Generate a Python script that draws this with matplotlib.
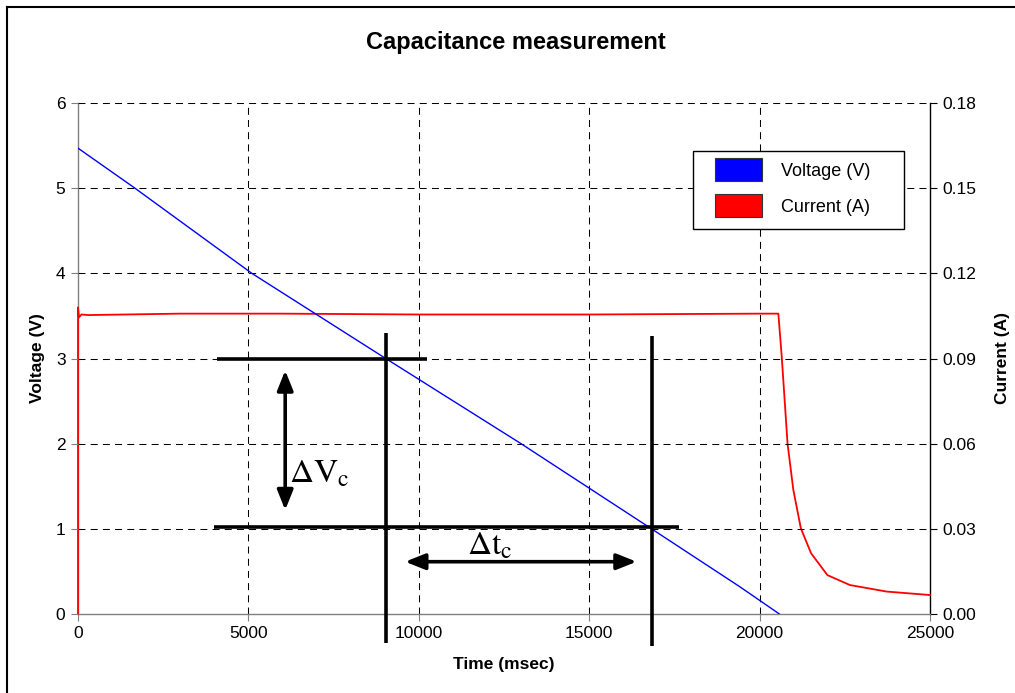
import matplotlib
matplotlib.use("Agg")
import matplotlib.pyplot as plt
from matplotlib.patches import Patch, Rectangle
from matplotlib.lines import Line2D

plt.rcParams['font.family'] = ['Liberation Sans', 'DejaVu Sans']
plt.rcParams['mathtext.fontset'] = 'stix'

# ---- data ----
volt_t = [0, 1670, 5100, 9030, 13000, 16830, 19420, 20580]
volt_v = [5.47, 5.0, 4.0, 3.0, 2.0, 1.0, 0.32, 0.0]

curr_t = [0, 0, 30, 100, 300, 3000, 6000, 10000, 15000, 20000, 20550, 20650,
          20820, 20990, 21210, 21510, 21990, 22650, 23730, 24980, 25000]
curr_a = [0.0, 0.108, 0.1045, 0.1055, 0.1053, 0.1058, 0.1058, 0.1055, 0.1055, 0.1058,
          0.1058, 0.0906, 0.060, 0.0437, 0.0302, 0.0214, 0.0137, 0.0102, 0.0079,
          0.0067, 0.0067]

x_ticks = [0, 5000, 10000, 15000, 20000, 25000]
v_ticks = [0, 1, 2, 3, 4, 5, 6]
i_ticks = [0.00, 0.03, 0.06, 0.09, 0.12, 0.15, 0.18]
i_tick_labels = ['0.00', '0.03', '0.06', '0.09', '0.12', '0.15', '0.18']

# annotation geometry (data units)
hline_upper = (3.0, 4070, 10230)      # V, t_start, t_end
hline_lower = (1.025, 3990, 17640)
vline_left = (9030, 3.3, -0.34)       # t, V_top, V_bottom
vline_right = (16830, 3.27, -0.38)
dv_arrow = (6080, 2.86, 1.22)
dt_arrow = (0.614, 9600, 16390)

W, H = 1015, 693
fig = plt.figure(figsize=(W / 100, H / 100), dpi=100)
ax2 = fig.add_axes([78/W, 1 - 614/H, (930-78)/W, (614-103)/H])
ax = ax2.twinx()  # voltage axes drawn on top
ax.yaxis.set_label_position('left')
ax.yaxis.tick_left()
ax2.yaxis.set_label_position('right')
ax2.yaxis.tick_right()

ax.set_xlim(0, 25000)
ax2.set_xlim(0, 25000)
ax.set_ylim(0, 6)
ax2.set_ylim(0, 0.18)

grid_ls = (0, (6.7, 5.0))
for xv in x_ticks[1:-1]:
    ax2.axvline(xv, color='black', lw=0.75, ls=grid_ls, zorder=1)
for yv in v_ticks[1:]:
    ax.axhline(yv, color='black', lw=0.75, ls=grid_ls, zorder=1)

ax2.plot(curr_t, curr_a, color='#ff0000', lw=1.3, zorder=3, clip_on=False)
ax.plot(volt_t, volt_v, color='#0000ff', lw=1.0, zorder=3)
ax.patch.set_visible(False)

# annotations
ak = dict(color='black', lw=2.6, solid_capstyle='butt', zorder=5, clip_on=False)
ax.plot([hline_upper[1], hline_upper[2]], [hline_upper[0]] * 2, **ak)
ax.plot([hline_lower[1], hline_lower[2]], [hline_lower[0]] * 2, **ak)
ax.plot([vline_left[0]] * 2, [vline_left[1], vline_left[2]], **ak)
ax.plot([vline_right[0]] * 2, [vline_right[1], vline_right[2]], **ak)
astyle = '<|-|>,head_length=0.6,head_width=0.24'
ax.annotate('', xy=(dv_arrow[0], dv_arrow[1]), xytext=(dv_arrow[0], dv_arrow[2]),
            arrowprops=dict(arrowstyle=astyle, color='black', lw=2.6,
                            shrinkA=0, shrinkB=0, mutation_scale=20), zorder=5)
ax.annotate('', xy=(dt_arrow[1], dt_arrow[0]), xytext=(dt_arrow[2], dt_arrow[0]),
            arrowprops=dict(arrowstyle=astyle, color='black', lw=2.6,
                            shrinkA=0, shrinkB=0, mutation_scale=20), zorder=5)
ax.text(6200, 1.64, r'$\Delta\mathrm{V}_{\mathrm{c}}$', fontsize=24, ha='left', va='center', zorder=6)
ax.text(12080, 0.80, r'$\Delta\mathrm{t}_{\mathrm{c}}$', fontsize=24, ha='center', va='center', zorder=6)

# axes styling
ax2.set_xticks(x_ticks)
ax2.set_xticklabels([str(v) for v in x_ticks])
ax.set_yticks(v_ticks)
ax2.set_yticks(i_ticks)
ax2.set_yticklabels(i_tick_labels)
for s in ['top', 'right', 'left', 'bottom']:
    ax.spines[s].set_visible(False)
ax2.spines['top'].set_visible(False)
for s in ['left', 'bottom']:
    ax2.spines[s].set_color('#808080')
    ax2.spines[s].set_linewidth(1.0)
ax2.spines['right'].set_color('black')
ax2.spines['right'].set_linewidth(1.0)
ax.tick_params(axis='y', direction='out', length=5, color='#808080', labelsize=12.5, pad=4)
ax.tick_params(axis='x', bottom=False, labelbottom=False)
ax2.tick_params(axis='x', direction='out', length=5, color='#808080', labelsize=12.5, pad=4)
ax2.tick_params(axis='y', direction='out', length=5, color='black', labelsize=12.5, pad=4)

ax2.set_xlabel('Time (msec)', fontsize=12.5, fontweight='bold', labelpad=11)
ax.set_ylabel('Voltage (V)', fontsize=12.5, fontweight='bold', labelpad=8)
ax2.set_ylabel('Current (A)', fontsize=12.5, fontweight='bold', labelpad=13)
fig.text((364 + 668) / 2 / W, 1 - 43 / H, 'Capacitance measurement', fontsize=17,
         fontweight='bold', ha='center', va='center')

# legend: box drawn separately, entries placed inside
box = Rectangle((693/W, 1 - 229/H), (904-693)/W, (229-151)/H, transform=fig.transFigure,
                facecolor='white', edgecolor='black', lw=1.0, zorder=7)
fig.add_artist(box)
handles = [Patch(facecolor='#0000ff', edgecolor='#333333', lw=0.8),
           Patch(facecolor='#ff0000', edgecolor='#333333', lw=0.8)]
leg = fig.legend(handles, ['Voltage (V)', 'Current (A)'], loc='upper left',
                 bbox_to_anchor=(715/W, 1 - 158/H), borderaxespad=0, borderpad=0,
                 fontsize=13, handlelength=2.6, handleheight=1.6, handletextpad=1.05,
                 labelspacing=0.72, frameon=False)
leg.set_zorder(8)

# outer frame (left and top edges)
fig.add_artist(Line2D([7/W, 7/W], [0, 1 - 7/H], transform=fig.transFigure, color='black', lw=1.5))
fig.add_artist(Line2D([7/W, 1], [1 - 7/H, 1 - 7/H], transform=fig.transFigure, color='black', lw=1.5))

fig.savefig('out.png', dpi=100)
